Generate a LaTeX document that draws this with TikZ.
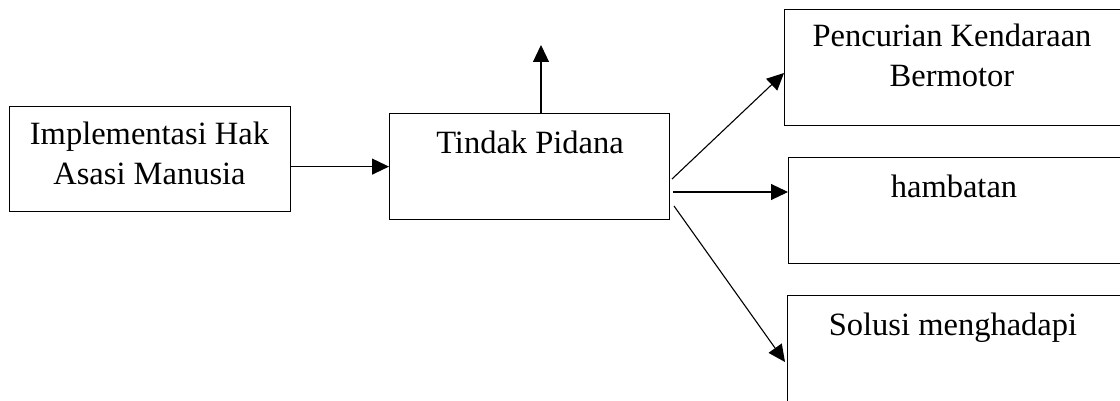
\documentclass[tikz,border=0pt]{standalone}
\usepackage{fontspec}
\setmainfont{Liberation Serif}
\usetikzlibrary{arrows.meta}
\begin{document}
\begin{tikzpicture}[x=1pt,y=-1pt,
  box/.style={draw,line width=1.2pt,anchor=north west,inner sep=0pt},
  txt/.style={anchor=base,inner sep=0pt,font=\fontsize{32.5pt}{40pt}\selectfont},
  arr/.style={line width=1.1pt,-{Triangle[length=17pt,width=16pt]}}]
\useasboundingbox (0,0) rectangle (1120,401);
% boxes
\node[box,minimum width=281pt,minimum height=105pt] (b1) at (9,106) {};
\node[box,minimum width=280pt,minimum height=106pt] (b2) at (389,113) {};
\node[box,minimum width=340pt,minimum height=116pt] (b3) at (784,9) {};
\node[box,minimum width=336pt,minimum height=106pt] (b4) at (788,157) {};
\node[box,minimum width=337pt,minimum height=120pt] (b5) at (787,295) {};
% box texts
\node[txt] (t1a) at (149.5,145) {Implementasi Hak};
\node[txt] (t1b) at (149.5,185) {Asasi Manusia};
\node[txt] (t2) at (530,154) {Tindak Pidana};
\node[txt] (t3a) at (952,47) {Pencurian Kendaraan};
\node[txt] (t3b) at (952,87) {Bermotor};
\node[txt] (t4) at (954,198) {hambatan};
\node[txt] (t5) at (953,335) {Solusi menghadapi};
% connectors
\coordinate (up) at (541,45);
\coordinate (s3) at (672,179);
\coordinate (s4) at (673,192);
\coordinate (s5) at (674,206);
\draw[arr] (b1.east |- b2.west) -- (b2.west);
\draw[arr] (up |- b2.north) -- (up);
\draw[arr] (s3) -- (b3.west |- 0,73);
\draw[arr] (s4) -- (b4.west |- s4);
\draw[arr] (s5) -- (785,362);
\end{tikzpicture}
\end{document}
